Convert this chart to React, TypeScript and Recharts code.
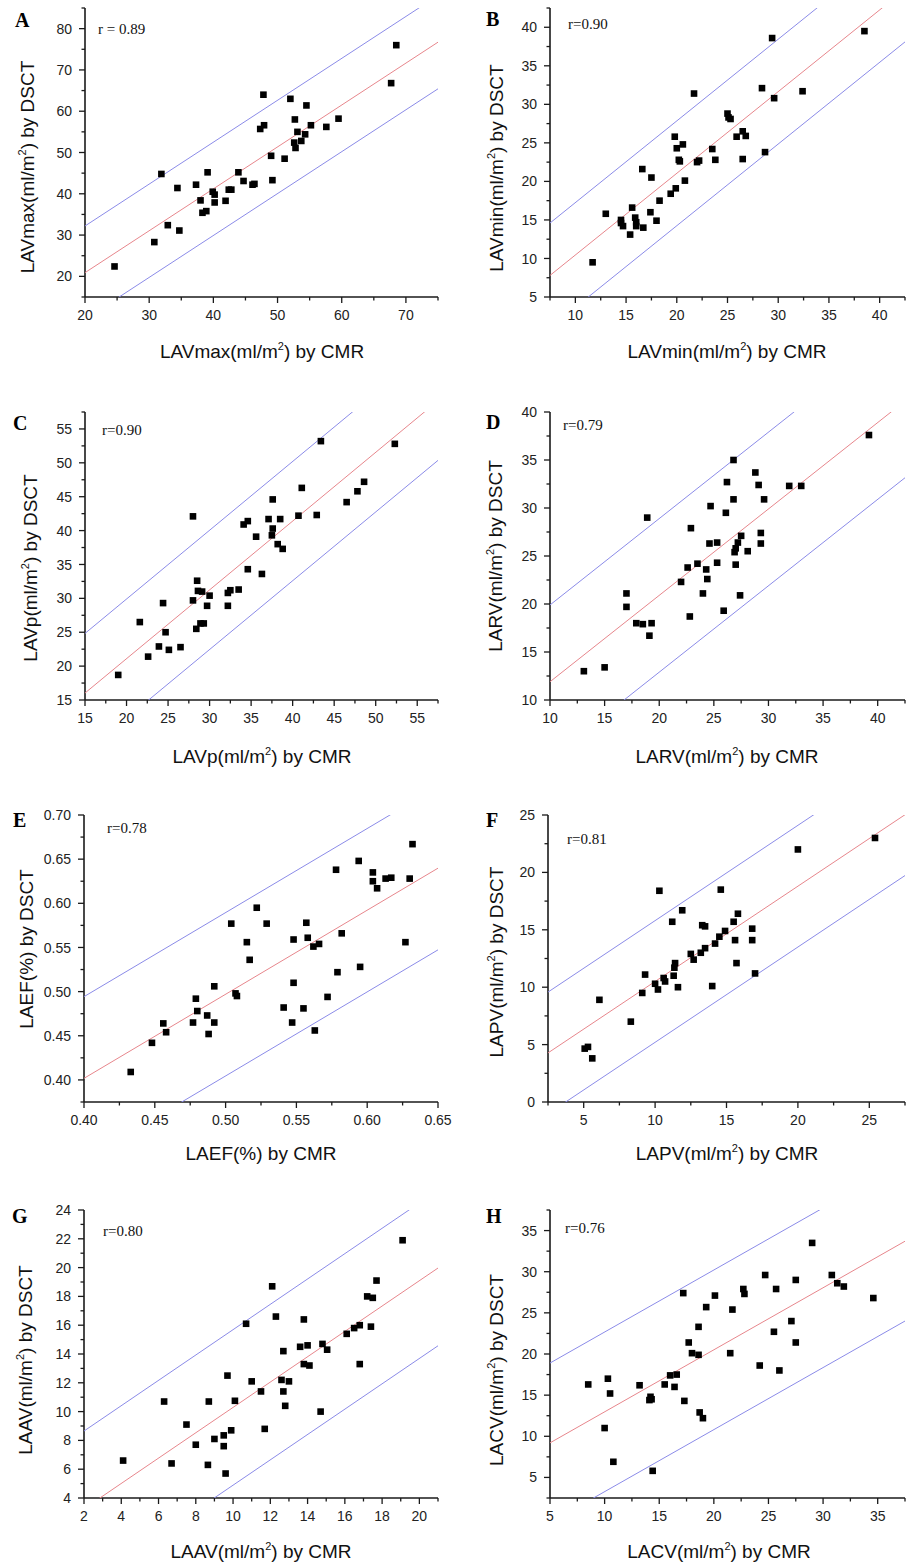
import React from 'react'
import { ScatterChart, Scatter, XAxis, YAxis } from 'recharts'

// A: LAVmax
const aPoints = [[24.6, 22.4], [30.8, 28.3], [31.9, 44.8], [32.9, 32.4], [34.4, 41.4], [34.7, 31.1], [37.3, 42.2], [38.0, 38.4], [38.3, 35.4], [38.9, 35.8], [39.1, 45.2], [39.9, 40.5], [40.2, 39.8], [40.2, 37.9], [41.9, 38.3], [42.4, 41.0], [42.8, 41.0], [43.9, 45.2], [44.7, 43.1], [46.1, 42.2], [46.4, 42.4], [47.3, 55.7], [47.8, 64.0], [47.9, 56.6], [49.0, 49.2], [49.2, 43.3], [51.1, 48.5], [52.0, 63.0], [52.6, 52.4], [52.7, 58.0], [52.8, 51.1], [53.1, 55.0], [53.7, 52.8], [54.3, 54.4], [54.5, 61.4], [55.2, 56.6], [57.6, 56.2], [59.5, 58.2], [67.7, 66.8], [68.5, 76.0]]
const aFit = [1.015, 0.6, 11.3] // slope, intercept, prediction band
const aXDomain = [20, 75]
const aYDomain = [15, 85]
const aXTicks = [20, 30, 40, 50, 60, 70]
const aYTicks = [20, 30, 40, 50, 60, 70, 80]

// B: LAVmin
const bPoints = [[11.7, 9.5], [13.0, 15.8], [14.5, 15.0], [14.5, 14.6], [14.7, 14.2], [15.4, 13.1], [15.6, 16.6], [15.9, 15.3], [16.0, 14.7], [16.0, 14.2], [16.7, 14.0], [16.6, 21.6], [17.4, 16.0], [17.5, 20.5], [18.0, 14.9], [18.3, 17.5], [19.4, 18.4], [19.9, 19.1], [19.8, 25.8], [20.0, 24.3], [20.2, 22.8], [20.3, 22.6], [20.6, 24.8], [20.8, 20.1], [21.7, 31.4], [22.0, 22.5], [22.2, 22.7], [23.5, 24.2], [23.8, 22.8], [25.0, 28.8], [25.1, 28.3], [25.3, 28.1], [25.9, 25.8], [26.5, 26.5], [26.8, 25.9], [26.5, 22.9], [28.4, 32.1], [28.7, 23.8], [29.4, 38.6], [29.6, 30.8], [32.4, 31.7], [38.5, 39.5]]
const bFit = [1.06, -0.15, 6.8]
const bXDomain = [7.5, 42.5]
const bYDomain = [5, 42.5]
const bXTicks = [10, 15, 20, 25, 30, 35, 40]
const bYTicks = [5, 10, 15, 20, 25, 30, 35, 40]

// C: LAVp
const cPoints = [[19.0, 18.7], [21.6, 26.5], [22.6, 21.4], [23.9, 22.9], [24.4, 29.3], [24.7, 25.0], [25.1, 22.4], [26.5, 22.8], [28.0, 42.1], [28.0, 29.7], [28.4, 25.5], [28.5, 32.6], [28.6, 31.1], [29.1, 31.0], [28.9, 26.3], [29.3, 26.3], [29.7, 28.9], [30.0, 30.4], [32.2, 30.8], [32.2, 28.9], [32.5, 31.2], [33.5, 31.3], [34.1, 40.9], [34.6, 41.4], [34.6, 34.3], [35.6, 39.1], [36.3, 33.6], [37.1, 41.7], [37.5, 39.3], [37.6, 40.3], [37.6, 44.6], [38.2, 38.0], [38.5, 41.7], [38.8, 37.3], [40.7, 42.2], [41.1, 46.3], [42.9, 42.3], [43.4, 53.2], [46.5, 44.2], [47.8, 45.8], [48.6, 47.2], [52.3, 52.8]]
const cFit = [1.015, 0.8, 8.8]
const cXDomain = [15, 57.5]
const cYDomain = [15, 57.5]
const cXTicks = [15, 20, 25, 30, 35, 40, 45, 50, 55]
const cYTicks = [15, 20, 25, 30, 35, 40, 45, 50, 55]

// D: LARV
const dPoints = [[13.1, 13.0], [15.0, 13.4], [17.0, 21.1], [17.0, 19.7], [17.9, 18.0], [18.5, 17.9], [18.9, 29.0], [19.3, 18.0], [19.1, 16.7], [22.0, 22.3], [22.6, 23.8], [22.8, 18.7], [22.9, 27.9], [23.5, 24.2], [24.0, 21.1], [24.3, 23.6], [24.4, 22.6], [24.6, 26.3], [24.7, 30.2], [25.3, 24.3], [25.3, 26.4], [25.9, 19.3], [26.1, 29.5], [26.2, 32.7], [26.8, 35.0], [26.8, 30.9], [26.9, 25.4], [27.0, 25.8], [27.0, 24.1], [27.2, 26.4], [27.4, 20.9], [27.5, 27.1], [28.1, 25.5], [28.8, 33.7], [29.1, 32.4], [29.3, 27.4], [29.3, 26.3], [29.6, 30.9], [31.9, 32.3], [33.0, 32.3], [39.2, 37.6]]
const dFit = [0.9, 2.9, 8]
const dXDomain = [10, 42.5]
const dYDomain = [10, 40]
const dXTicks = [10, 15, 20, 25, 30, 35, 40]
const dYTicks = [10, 15, 20, 25, 30, 35, 40]

// E: LAEF
const ePoints = [[0.433, 0.409], [0.448, 0.442], [0.456, 0.464], [0.458, 0.454], [0.477, 0.465], [0.479, 0.492], [0.480, 0.478], [0.487, 0.473], [0.488, 0.452], [0.492, 0.465], [0.492, 0.506], [0.504, 0.577], [0.507, 0.498], [0.508, 0.495], [0.515, 0.556], [0.517, 0.536], [0.522, 0.595], [0.529, 0.577], [0.541, 0.482], [0.547, 0.465], [0.548, 0.510], [0.548, 0.559], [0.555, 0.481], [0.557, 0.578], [0.558, 0.561], [0.562, 0.551], [0.563, 0.456], [0.566, 0.554], [0.572, 0.494], [0.578, 0.638], [0.579, 0.522], [0.582, 0.566], [0.594, 0.648], [0.595, 0.528], [0.604, 0.635], [0.604, 0.625], [0.607, 0.617], [0.613, 0.628], [0.617, 0.629], [0.627, 0.556], [0.630, 0.628], [0.632, 0.667]]
const eFit = [0.952, 0.021, 0.0925]
const eXDomain = [0.4, 0.65]
const eYDomain = [0.375, 0.7]
const eXTicks = [0.4, 0.45, 0.5, 0.55, 0.6, 0.65]
const eYTicks = [0.4, 0.45, 0.5, 0.55, 0.6, 0.65, 0.7]

// F: LAPV
const fPoints = [[5.07, 4.65], [5.3, 4.8], [5.6, 3.8], [6.1, 8.9], [8.3, 7.0], [9.1, 9.5], [9.3, 11.1], [10.0, 10.3], [10.2, 9.8], [10.3, 18.4], [10.6, 10.8], [10.7, 10.5], [11.2, 15.7], [11.3, 11.0], [11.4, 12.1], [11.35, 11.7], [11.6, 10.0], [11.9, 16.7], [12.5, 12.9], [12.7, 12.4], [13.2, 13.0], [13.3, 15.4], [13.5, 15.3], [13.5, 13.4], [14.0, 10.1], [14.2, 13.8], [14.5, 14.4], [14.6, 18.5], [14.9, 14.9], [15.5, 15.7], [15.6, 14.1], [15.7, 12.1], [15.8, 16.4], [16.8, 15.1], [16.8, 14.1], [17.0, 11.2], [20.0, 22.0], [25.4, 23.0]]
const fFit = [0.83, 2.2, 5.3]
const fXDomain = [2.5, 27.5]
const fYDomain = [0, 25]
const fXTicks = [5, 10, 15, 20, 25]
const fYTicks = [0, 5, 10, 15, 20, 25]

// G: LAAV
const gPoints = [[4.1, 6.6], [6.3, 10.7], [6.7, 6.4], [7.5, 9.1], [8.0, 7.7], [8.65, 6.3], [8.7, 10.7], [9.0, 8.1], [9.5, 8.35], [9.5, 7.6], [9.6, 5.7], [9.7, 12.5], [9.9, 8.7], [10.1, 10.75], [10.7, 16.1], [11.0, 12.1], [11.5, 11.4], [11.7, 8.8], [12.1, 18.7], [12.3, 16.6], [12.6, 12.2], [12.7, 11.4], [12.7, 14.2], [12.8, 10.4], [13.0, 12.1], [13.6, 14.5], [13.8, 16.4], [13.8, 13.3], [14.0, 14.6], [14.1, 13.2], [14.7, 10.0], [14.8, 14.7], [15.05, 14.3], [16.1, 15.4], [16.5, 15.8], [16.8, 16.0], [16.8, 13.3], [17.2, 18.0], [17.4, 15.9], [17.5, 17.9], [17.7, 19.1], [19.1, 21.9]]
const gFit = [0.88, 1.49, 5.4]
const gXDomain = [2, 21]
const gYDomain = [4, 24]
const gXTicks = [2, 4, 6, 8, 10, 12, 14, 16, 18, 20]
const gYTicks = [4, 6, 8, 10, 12, 14, 16, 18, 20, 22, 24]

// H: LACV
const hPoints = [[8.5, 16.3], [10.0, 11.0], [10.3, 17.0], [10.5, 15.2], [10.8, 6.9], [13.2, 16.2], [14.1, 14.4], [14.2, 14.8], [14.3, 14.5], [14.4, 5.8], [15.5, 16.3], [16.0, 17.4], [16.4, 16.0], [16.6, 17.5], [17.2, 27.4], [17.3, 14.3], [17.7, 21.4], [18.0, 20.1], [18.6, 19.9], [18.6, 23.3], [18.7, 12.9], [19.0, 12.2], [19.3, 25.7], [20.1, 27.1], [21.5, 20.1], [21.7, 25.4], [22.7, 27.9], [22.8, 27.3], [24.2, 18.6], [24.7, 29.6], [25.5, 22.7], [25.7, 27.9], [26.0, 18.0], [27.1, 24.0], [27.5, 21.4], [27.5, 29.0], [29.0, 33.5], [30.8, 29.6], [31.3, 28.6], [31.9, 28.2], [34.6, 26.8]]
const hFit = [0.754, 5.43, 9.7]
const hXDomain = [5, 37.5]
const hYDomain = [2.5, 37.5]
const hXTicks = [5, 10, 15, 20, 25, 30, 35]
const hYTicks = [5, 10, 15, 20, 25, 30, 35]

const RED = '#e7868c'
const BLUE = '#8b8be8'
const AXIS = '#1a1a1a'
const SANS = '"Liberation Sans", Arial, sans-serif'
const SERIF = '"Liberation Serif", "Times New Roman", serif'

// plot box [left, top, right, bottom] in page pixels
const panels = [
  { id: 'A', name: 'LAVmax', r: 'r = 0.89', pts: aPoints, fit: aFit, xd: aXDomain, yd: aYDomain, xt: aXTicks, yt: aYTicks, box: [85, 8, 438, 297], letter: [15, 27], rPos: [98, 34], xTitle: [262, 358], yTitle: [34, 167] },
  { id: 'B', name: 'LAVmin', r: 'r=0.90', pts: bPoints, fit: bFit, xd: bXDomain, yd: bYDomain, xt: bXTicks, yt: bYTicks, box: [550, 8, 905, 297], letter: [486, 26], rPos: [568, 29], xTitle: [727, 358], yTitle: [503, 168] },
  { id: 'C', name: 'LAVp', r: 'r=0.90', pts: cPoints, fit: cFit, xd: cXDomain, yd: cYDomain, xt: cXTicks, yt: cYTicks, box: [85, 412, 438, 700], letter: [13, 430], rPos: [102, 435], xTitle: [262, 763], yTitle: [37, 568] },
  { id: 'D', name: 'LARV', r: 'r=0.79', pts: dPoints, fit: dFit, xd: dXDomain, yd: dYDomain, xt: dXTicks, yt: dYTicks, box: [550, 412, 905, 700], letter: [486, 429], rPos: [563, 430], xTitle: [727, 763], yTitle: [502, 556] },
  { id: 'E', name: 'LAEF', pct: true, r: 'r=0.78', pts: ePoints, fit: eFit, xd: eXDomain, yd: eYDomain, xt: eXTicks, yt: eYTicks, box: [84, 815, 438, 1102], letter: [13, 827], rPos: [107, 833], xTitle: [261, 1160], yTitle: [33, 949] },
  { id: 'F', name: 'LAPV', r: 'r=0.81', pts: fPoints, fit: fFit, xd: fXDomain, yd: fYDomain, xt: fXTicks, yt: fYTicks, box: [548, 815, 905, 1102], letter: [486, 827], rPos: [567, 844], xTitle: [727, 1160], yTitle: [503, 962] },
  { id: 'G', name: 'LAAV', r: 'r=0.80', pts: gPoints, fit: gFit, xd: gXDomain, yd: gYDomain, xt: gXTicks, yt: gYTicks, box: [84, 1210, 438, 1498], letter: [12, 1223], rPos: [103, 1236], xTitle: [261, 1558], yTitle: [32, 1360] },
  { id: 'H', name: 'LACV', r: 'r=0.76', pts: hPoints, fit: hFit, xd: hXDomain, yd: hYDomain, xt: hXTicks, yt: hYTicks, box: [550, 1210, 905, 1498], letter: [486, 1223], rPos: [565, 1233], xTitle: [719, 1558], yTitle: [503, 1370] },
]

const round = (v: number) => Number(v.toFixed(5))

function withMinor(majors: number[], domain: number[]) {
  const step = majors[1] - majors[0]
  const minor = [majors[0] - step / 2, ...majors.map((m) => m + step / 2)]
  const all = [...majors, ...minor].map(round).filter((v) => v >= domain[0] - 1e-9 && v <= domain[1] + 1e-9)
  return all.sort((a, b) => a - b)
}

const isMajor = (majors: number[], v: number) => majors.some((m) => Math.abs(m - v) < 1e-6)

function XTick(props: any) {
  const { x, y, payload, majors, pct } = props
  const major = isMajor(majors, payload.value)
  return (
    <g>
      <line x1={x} x2={x} y1={y} y2={y + (major ? 6 : 3.5)} stroke={AXIS} strokeWidth={1.3} />
      {major && (
        <text x={x} y={y + 13} dy="0.71em" textAnchor="middle" fontSize={14} fontFamily={SANS} fill="#222">
          {pct ? payload.value.toFixed(2) : payload.value}
        </text>
      )}
    </g>
  )
}

function YTick(props: any) {
  const { x, y, payload, majors, pct } = props
  const major = isMajor(majors, payload.value)
  return (
    <g>
      <line x1={x} x2={x - (major ? 6 : 3.5)} y1={y} y2={y} stroke={AXIS} strokeWidth={1.3} />
      {major && (
        <text x={x - 13} y={y} dy="0.36em" textAnchor="end" fontSize={14} fontFamily={SANS} fill="#222">
          {pct ? payload.value.toFixed(2) : payload.value}
        </text>
      )}
    </g>
  )
}

const Square = (props: any) => <rect x={props.cx - 3.3} y={props.cy - 3.3} width={6.6} height={6.6} fill="#000" />
const NoDot = () => <g />

function Panel({ p }: { p: any }) {
  const [l, t, r, b] = p.box
  const padL = 80
  const padT = 10
  const padR = 16
  const padB = 40
  const [slope, icpt, band] = p.fit
  const line = (off: number) => p.xd.map((x: number) => ({ x, y: icpt + slope * x + off }))
  const pts = p.pts.map(([x, y]: number[]) => ({ x, y }))
  return (
    <div style={{ position: 'absolute', left: l - padL, top: t - padT }}>
      <ScatterChart width={r - l + padL + padR} height={b - t + padT + padB} margin={{ top: padT, right: padR, bottom: 0, left: 0 }}>
        <XAxis type="number" dataKey="x" domain={p.xd} allowDataOverflow ticks={withMinor(p.xt, p.xd)} interval={0}
          tickSize={0} tickMargin={0} tickLine={false} height={padB}
          axisLine={{ stroke: AXIS, strokeWidth: 1.6 }}
          tick={(tp: any) => <XTick {...tp} majors={p.xt} pct={p.pct} />} />
        <YAxis type="number" dataKey="y" domain={p.yd} allowDataOverflow ticks={withMinor(p.yt, p.yd)} interval={0}
          tickSize={0} tickMargin={0} tickLine={false} width={padL}
          axisLine={{ stroke: AXIS, strokeWidth: 1.6 }}
          tick={(tp: any) => <YTick {...tp} majors={p.yt} pct={p.pct} />} />
        <Scatter data={line(band)} line={{ stroke: BLUE, strokeWidth: 1 }} shape={NoDot} isAnimationActive={false} />
        <Scatter data={line(-band)} line={{ stroke: BLUE, strokeWidth: 1 }} shape={NoDot} isAnimationActive={false} />
        <Scatter data={line(0)} line={{ stroke: RED, strokeWidth: 1 }} shape={NoDot} isAnimationActive={false} />
        <Scatter data={pts} shape={Square} isAnimationActive={false} />
      </ScatterChart>
    </div>
  )
}

function Title({ x, y, name, pct, by, rotate }: any) {
  const tf = rotate ? `rotate(-90 ${x} ${y})` : undefined
  return (
    <text x={x} y={y} transform={tf} textAnchor="middle" fontSize={19} fontFamily={SANS} fill="#111">
      {pct ? (
        `${name}(%) by ${by}`
      ) : (
        <>
          {`${name}(ml/m`}
          <tspan dy={-8} fontSize={11}>2</tspan>
          <tspan dy={8}>{`) by ${by}`}</tspan>
        </>
      )}
    </text>
  )
}

export default function App() {
  return (
    <div style={{ position: 'absolute', left: 0, top: 0, width: 909, height: 1565, background: '#fff', overflow: 'hidden' }}>
      {panels.map((p) => <Panel key={p.id} p={p} />)}
      <svg width={909} height={1565} style={{ position: 'absolute', left: 0, top: 0, pointerEvents: 'none' }}>
        {panels.map((p) => (
          <g key={p.id}>
            <text x={p.letter[0]} y={p.letter[1]} fontSize={20} fontWeight="bold" fontFamily={SERIF} fill="#000">{p.id}</text>
            <text x={p.rPos[0]} y={p.rPos[1]} fontSize={15} fontFamily={SERIF} fill="#111">{p.r}</text>
            <Title x={p.xTitle[0]} y={p.xTitle[1]} name={p.name} pct={p.pct} by="CMR" />
            <Title x={p.yTitle[0]} y={p.yTitle[1]} name={p.name} pct={p.pct} by="DSCT" rotate />
          </g>
        ))}
      </svg>
    </div>
  )
}
